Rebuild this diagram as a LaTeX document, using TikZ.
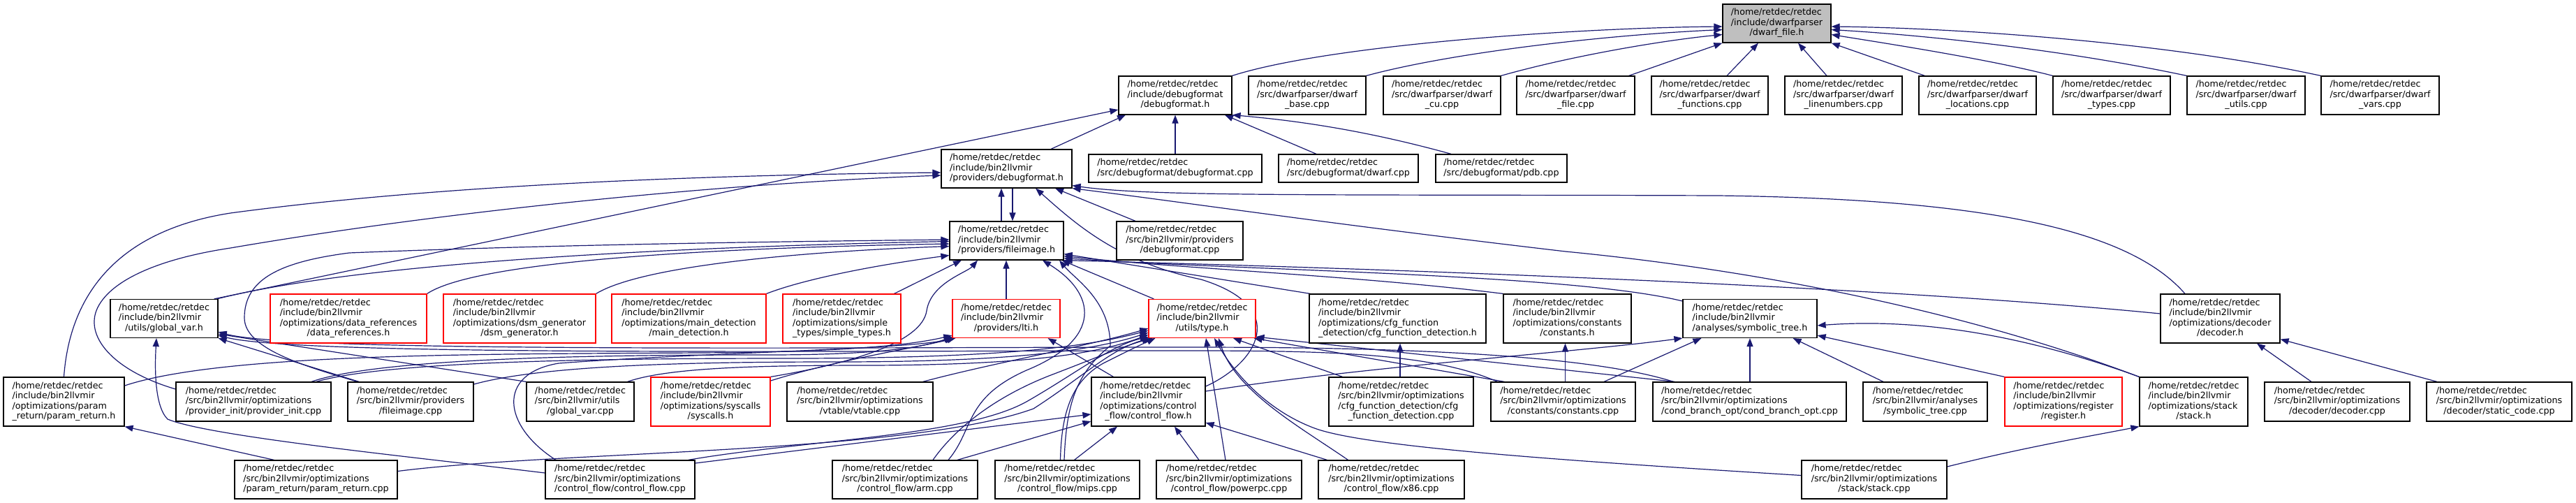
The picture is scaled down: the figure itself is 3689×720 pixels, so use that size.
\documentclass[tikz,border=0pt]{standalone}
\usepackage{fontspec}
\newfontfamily\dvs{DejaVu Sans}
\usetikzlibrary{arrows.meta}
\definecolor{dblue}{HTML}{191970}
\definecolor{rootg}{HTML}{BFBFBF}
\definecolor{tred}{HTML}{FF0000}
\newcommand{\dxf}{\dvs\fontsize{12.7}{14.5}\selectfont}
\newcommand{\dxl}[2]{\begin{tabular}{@{}l@{}}#1\\\multicolumn{1}{@{}c@{}}{#2}\end{tabular}}
\pgfdeclarelayer{bg}
\pgfsetlayers{bg,main}
\tikzset{
  bx/.style={draw=black, fill=white, line width=1.2pt, inner sep=0pt, font=\dxf},
  rbx/.style={bx, draw=tred},
  gbx/.style={bx, fill=rootg},
  lnk/.style={draw=dblue, line width=1.2pt, -{Triangle[length=12pt,width=9pt]}},
}
\begin{document}
\begin{tikzpicture}[x=1pt,y=-1pt]
\useasboundingbox (0,0) rectangle (3689,720);
% row 0
\node[gbx, minimum width=155, minimum height=55] (dwf) at (2544.5,33.5) {\dxl{/home/retdec/retdec\\/include/dwarfparser}{/dwarf\_file.h}};
% row 1
\node[bx, minimum width=162, minimum height=55] (dbg) at (1683,136.5) {\dxl{/home/retdec/retdec\\/include/debugformat}{/debugformat.h}};
\node[bx, minimum width=168, minimum height=55] (cbase) at (1872,136.5) {\dxl{/home/retdec/retdec\\/src/dwarfparser/dwarf}{\_base.cpp}};
\node[bx, minimum width=168, minimum height=55] (ccu) at (2065,136.5) {\dxl{/home/retdec/retdec\\/src/dwarfparser/dwarf}{\_cu.cpp}};
\node[bx, minimum width=169, minimum height=55] (cfile) at (2256.5,136.5) {\dxl{/home/retdec/retdec\\/src/dwarfparser/dwarf}{\_file.cpp}};
\node[bx, minimum width=167, minimum height=55] (cfun) at (2448.5,136.5) {\dxl{/home/retdec/retdec\\/src/dwarfparser/dwarf}{\_functions.cpp}};
\node[bx, minimum width=168, minimum height=55] (clin) at (2640,136.5) {\dxl{/home/retdec/retdec\\/src/dwarfparser/dwarf}{\_linenumbers.cpp}};
\node[bx, minimum width=168, minimum height=55] (cloc) at (2832,136.5) {\dxl{/home/retdec/retdec\\/src/dwarfparser/dwarf}{\_locations.cpp}};
\node[bx, minimum width=168, minimum height=55] (ctyp) at (3024,136.5) {\dxl{/home/retdec/retdec\\/src/dwarfparser/dwarf}{\_types.cpp}};
\node[bx, minimum width=169, minimum height=55] (cutl) at (3216.5,136.5) {\dxl{/home/retdec/retdec\\/src/dwarfparser/dwarf}{\_utils.cpp}};
\node[bx, minimum width=169, minimum height=55] (cvar) at (3408.5,136.5) {\dxl{/home/retdec/retdec\\/src/dwarfparser/dwarf}{\_vars.cpp}};
% row 2
\node[bx, minimum width=187, minimum height=55] (pdbg) at (1441.5,241.5) {\dxl{/home/retdec/retdec\\/include/bin2llvmir}{/providers/debugformat.h}};
\node[bx, minimum width=248, minimum height=40] (sdbg) at (1683,241) {\dxl{/home/retdec/retdec}{/src/debugformat/debugformat.cpp}};
\node[bx, minimum width=200, minimum height=40] (sdwarf) at (1931,241) {\dxl{/home/retdec/retdec}{/src/debugformat/dwarf.cpp}};
\node[bx, minimum width=188, minimum height=40] (spdb) at (2150,241) {\dxl{/home/retdec/retdec}{/src/debugformat/pdb.cpp}};
% row 3
\node[bx, minimum width=163, minimum height=55] (fimg) at (1441.5,344.5) {\dxl{/home/retdec/retdec\\/include/bin2llvmir}{/providers/fileimage.h}};
\node[bx, minimum width=181, minimum height=55] (pdbgcpp) at (1689.5,344.5) {\dxl{/home/retdec/retdec\\/src/bin2llvmir/providers}{/debugformat.cpp}};
% row 4
\node[bx, minimum width=154, minimum height=55] (gvh) at (235,456) {\dxl{/home/retdec/retdec\\/include/bin2llvmir}{/utils/global\_var.h}};
\node[rbx, minimum width=224, minimum height=70] (dref) at (499,456) {\dxl{/home/retdec/retdec\\/include/bin2llvmir\\/optimizations/data\_references}{/data\_references.h}};
\node[rbx, minimum width=218, minimum height=70] (dsm) at (744,456) {\dxl{/home/retdec/retdec\\/include/bin2llvmir\\/optimizations/dsm\_generator}{/dsm\_generator.h}};
\node[rbx, minimum width=221, minimum height=70] (mdet) at (986.5,456) {\dxl{/home/retdec/retdec\\/include/bin2llvmir\\/optimizations/main\_detection}{/main\_detection.h}};
\node[rbx, minimum width=169, minimum height=70] (stypes) at (1205.5,456) {\dxl{/home/retdec/retdec\\/include/bin2llvmir\\/optimizations/simple}{\_types/simple\_types.h}};
\node[rbx, minimum width=154, minimum height=55] (lti) at (1441,456) {\dxl{/home/retdec/retdec\\/include/bin2llvmir}{/providers/lti.h}};
\node[rbx, minimum width=153, minimum height=55] (typeh) at (1721.5,456) {\dxl{/home/retdec/retdec\\/include/bin2llvmir}{/utils/type.h}};
\node[bx, minimum width=253, minimum height=70] (cfgh) at (2001.5,456) {\dxl{/home/retdec/retdec\\/include/bin2llvmir\\/optimizations/cfg\_function}{\_detection/cfg\_function\_detection.h}};
\node[bx, minimum width=183, minimum height=70] (consth) at (2244.5,456) {\dxl{/home/retdec/retdec\\/include/bin2llvmir\\/optimizations/constants}{/constants.h}};
\node[bx, minimum width=192, minimum height=55] (symh) at (2506,456) {\dxl{/home/retdec/retdec\\/include/bin2llvmir}{/analyses/symbolic\_tree.h}};
\node[bx, minimum width=171, minimum height=70] (dech) at (3179.5,456) {\dxl{/home/retdec/retdec\\/include/bin2llvmir\\/optimizations/decoder}{/decoder.h}};
% row 5
\node[bx, minimum width=173, minimum height=70] (prh) at (91.5,575) {\dxl{/home/retdec/retdec\\/include/bin2llvmir\\/optimizations/param}{\_return/param\_return.h}};
\node[bx, minimum width=222, minimum height=56] (pinit) at (363,575) {\dxl{/home/retdec/retdec\\/src/bin2llvmir/optimizations}{/provider\_init/provider\_init.cpp}};
\node[bx, minimum width=180, minimum height=56] (fimgcpp) at (588,575) {\dxl{/home/retdec/retdec\\/src/bin2llvmir/providers}{/fileimage.cpp}};
\node[bx, minimum width=154, minimum height=56] (gvcpp) at (831,575) {\dxl{/home/retdec/retdec\\/src/bin2llvmir/utils}{/global\_var.cpp}};
\node[rbx, minimum width=171, minimum height=70] (sysh) at (1017.5,575) {\dxl{/home/retdec/retdec\\/include/bin2llvmir\\/optimizations/syscalls}{/syscalls.h}};
\node[bx, minimum width=209, minimum height=56] (vtab) at (1231.5,575) {\dxl{/home/retdec/retdec\\/src/bin2llvmir/optimizations}{/vtable/vtable.cpp}};
\node[bx, minimum width=163, minimum height=70] (cfh) at (1644.5,575) {\dxl{/home/retdec/retdec\\/include/bin2llvmir\\/optimizations/control}{\_flow/control\_flow.h}};
\node[bx, minimum width=207, minimum height=70] (cfgcpp) at (2006.5,575) {\dxl{/home/retdec/retdec\\/src/bin2llvmir/optimizations\\/cfg\_function\_detection/cfg}{\_function\_detection.cpp}};
\node[bx, minimum width=207, minimum height=56] (constcpp) at (2238.5,575) {\dxl{/home/retdec/retdec\\/src/bin2llvmir/optimizations}{/constants/constants.cpp}};
\node[bx, minimum width=277, minimum height=56] (cbo) at (2505.5,575) {\dxl{/home/retdec/retdec\\/src/bin2llvmir/optimizations}{/cond\_branch\_opt/cond\_branch\_opt.cpp}};
\node[bx, minimum width=178, minimum height=56] (symcpp) at (2757,575) {\dxl{/home/retdec/retdec\\/src/bin2llvmir/analyses}{/symbolic\_tree.cpp}};
\node[rbx, minimum width=168, minimum height=70] (regh) at (2955,575) {\dxl{/home/retdec/retdec\\/include/bin2llvmir\\/optimizations/register}{/register.h}};
\node[bx, minimum width=155, minimum height=70] (stackh) at (3141.5,575) {\dxl{/home/retdec/retdec\\/include/bin2llvmir\\/optimizations/stack}{/stack.h}};
\node[bx, minimum width=208, minimum height=56] (deccpp) at (3347,575) {\dxl{/home/retdec/retdec\\/src/bin2llvmir/optimizations}{/decoder/decoder.cpp}};
\node[bx, minimum width=208, minimum height=56] (statcpp) at (3579,575) {\dxl{/home/retdec/retdec\\/src/bin2llvmir/optimizations}{/decoder/static\_code.cpp}};
% row 6
\node[bx, minimum width=233, minimum height=55] (prcpp) at (452.5,686.5) {\dxl{/home/retdec/retdec\\/src/bin2llvmir/optimizations}{/param\_return/param\_return.cpp}};
\node[bx, minimum width=214, minimum height=55] (cfcpp) at (888,686.5) {\dxl{/home/retdec/retdec\\/src/bin2llvmir/optimizations}{/control\_flow/control\_flow.cpp}};
\node[bx, minimum width=208, minimum height=55] (arm) at (1296,686.5) {\dxl{/home/retdec/retdec\\/src/bin2llvmir/optimizations}{/control\_flow/arm.cpp}};
\node[bx, minimum width=207, minimum height=55] (mips) at (1528.5,686.5) {\dxl{/home/retdec/retdec\\/src/bin2llvmir/optimizations}{/control\_flow/mips.cpp}};
\node[bx, minimum width=208, minimum height=55] (ppc) at (1760,686.5) {\dxl{/home/retdec/retdec\\/src/bin2llvmir/optimizations}{/control\_flow/powerpc.cpp}};
\node[bx, minimum width=209, minimum height=55] (x86) at (1992.5,686.5) {\dxl{/home/retdec/retdec\\/src/bin2llvmir/optimizations}{/control\_flow/x86.cpp}};
\node[bx, minimum width=208, minimum height=55] (stackcpp) at (2684,686.5) {\dxl{/home/retdec/retdec\\/src/bin2llvmir/optimizations}{/stack/stack.cpp}};

\begin{pgfonlayer}{bg}
% into dwarf_file.h
\draw[lnk] (dbg.north east) .. controls (1900,65) and (2250,40) .. ([yshift=-4.5]dwf.west);
\draw[lnk] (cbase.north east) .. controls (2080,75) and (2300,50) .. ([yshift=-9]dwf.west);
\draw[lnk] (ccu.north east) .. controls (2250,80) and (2380,58) .. ([yshift=-16]dwf.west);
\draw[lnk] ([xshift=-9]cfile.north east) -- (dwf.south west);
\draw[lnk] ([xshift=24.5]cfun.north) -- ([xshift=-26.5]dwf.south);
\draw[lnk] ([xshift=-24]clin.north) -- ([xshift=30.5]dwf.south);
\draw[lnk] ([xshift=9]cloc.north west) -- (dwf.south east);
\draw[lnk] (ctyp.north west) .. controls (2850,85) and (2700,62) .. ([yshift=-16]dwf.east);
\draw[lnk] (cutl.north west) .. controls (2950,70) and (2750,50) .. ([yshift=-9]dwf.east);
\draw[lnk] (cvar.north west) .. controls (3100,60) and (2800,40) .. ([yshift=-4.5]dwf.east);
% into debugformat.h
\draw[lnk] ([xshift=63.5]pdbg.north) -- ([xshift=-71]dbg.south);
\draw[lnk] (sdbg.north) -- (dbg.south);
\draw[lnk] ([xshift=-46]sdwarf.north) -- ([xshift=71]dbg.south);
\draw[lnk] ([xshift=-72]spdb.north) .. controls (1950,185) and (1850,172) .. (dbg.south east);
\draw[lnk] ([xshift=-6]gvh.north east) -- ([yshift=-20.5]dbg.west);
% into providers/debugformat.h
\draw[lnk] ([xshift=-7.5]fimg.north) -- ([xshift=-7.5]pdbg.south);
\draw[lnk] ([xshift=8.5]pdbg.south) -- ([xshift=8.5]fimg.north);
\draw[lnk] (prh.north) .. controls (100,420) and (170,330) .. (330,305) .. controls (650,262) and (1050,250) .. ([yshift=-5.5]pdbg.west);
\draw[lnk] ([yshift=18]pinit.west) .. controls (160,530) and (120,480) .. (140,440) .. controls (160,400) and (230,370) .. (330,355) .. controls (650,300) and (1050,262) .. ([yshift=-9.5]pdbg.west);
\draw[lnk] ([xshift=-63.5]pdbgcpp.north) -- ([xshift=69.5]pdbg.south);
\draw[lnk] ([yshift=22]cfh.east) .. controls (1800,520) and (1850,440) .. (1720,400) .. controls (1600,375) and (1540,320) .. ([xshift=41.5]pdbg.south);
\draw[lnk] ([xshift=-50.5]dech.north) .. controls (3050,330) and (2850,285) .. (2460,280) .. controls (1900,278) and (1650,282) .. ([yshift=4]pdbg.south east);
\draw[lnk] (stackh.north west) .. controls (2800,440) and (2500,385) .. (2242,360) .. controls (1900,320) and (1700,290) .. (pdbg.south east);
% into fileimage.h
\draw[lnk] ([xshift=-2]gvh.north east) .. controls (500,380) and (900,355) .. ([yshift=-1]fimg.west);
\draw[lnk] ([xshift=-76]fimgcpp.north) .. controls (440,525) and (350,500) .. (350,455) .. controls (350,400) and (400,375) .. (500,362) .. controls (800,350) and (1100,346) .. ([yshift=1.5]fimg.west);
\draw[lnk] (dref.north east) .. controls (680,375) and (1000,355) .. ([yshift=-4.5]fimg.west);
\draw[lnk] (dsm.north east) .. controls (920,380) and (1150,360) .. ([yshift=-8]fimg.west);
\draw[lnk] (mdet.north east) .. controls (1150,400) and (1250,380) .. ([yshift=-21]fimg.west);
\draw[lnk] ([xshift=75]stypes.north) -- ([xshift=-64.5]fimg.south);
\draw[lnk] (sysh.north east) .. controls (1220,520) and (1320,490) .. (1327,445) .. controls (1333,405) and (1385,390) .. ([xshift=-41.5]fimg.south);
\draw[lnk] (lti.north) -- ([xshift=-0.5]fimg.south);
\draw[lnk] ([xshift=62]arm.north) .. controls (1395,615) and (1380,570) .. (1470,530) .. controls (1580,485) and (1570,420) .. ([xshift=51.5]fimg.south);
\draw[lnk] ([xshift=-4.5]mips.north) .. controls (1527,580) and (1540,535) .. (1590,495) .. controls (1590,430) and (1540,400) .. ([xshift=75.5]fimg.south);
\draw[lnk] ([xshift=8]typeh.north west) -- ([xshift=-3]fimg.south east);
\draw[lnk] ([xshift=2]cfgh.north west) -- ([yshift=9]fimg.south east);
\draw[lnk] (consth.north west) .. controls (1950,395) and (1700,385) .. ([yshift=6]fimg.south east);
\draw[lnk] ([yshift=25]symh.west) .. controls (2250,392) and (1800,388) .. ([yshift=3]fimg.south east);
\draw[lnk] ([yshift=7]dech.west) .. controls (2700,410) and (2000,385) .. (fimg.south east);
% into global_var.h
\draw[lnk] ([yshift=9.5]cfcpp.west) .. controls (600,655) and (300,625) .. (240,600) .. controls (220,580) and (222,520) .. ([xshift=-11]gvh.south);
\draw[lnk] ([xshift=-74]fimgcpp.north) -- (gvh.south east);
\draw[lnk] (gvcpp.north west) -- ([yshift=6]gvh.south east);
\draw[lnk] ([xshift=10]constcpp.north west) .. controls (2050,505) and (1900,502) .. (1700,502) .. controls (1200,502) and (430,510) .. ([yshift=4]gvh.south east);
\draw[lnk] ([xshift=30]cbo.north west) .. controls (2250,500) and (1900,497) .. (1700,497) .. controls (1200,497) and (420,505) .. ([yshift=9]gvh.south east);
% into lti.h
\draw[lnk] ([yshift=23]prh.east) .. controls (320,505) and (700,507) .. (1000,505) .. controls (1200,504) and (1300,495) .. ([yshift=4]lti.south west);
\draw[lnk] ([xshift=83]pinit.north) .. controls (550,510) and (900,508) .. (1100,508) .. controls (1250,508) and (1320,498) .. ([yshift=2]lti.south west);
\draw[lnk] ([xshift=-92]cfcpp.north) .. controls (720,610) and (710,535) .. (800,520) .. controls (1000,505) and (1300,500) .. ([xshift=2]lti.south west);
\draw[lnk] ([yshift=30]sysh.east) .. controls (1200,515) and (1300,500) .. ([xshift=5]lti.south west);
\draw[lnk] ([xshift=-50]cfh.north) -- ([xshift=-18]lti.south east);
% into type.h
\draw[lnk] ([xshift=-15]vtab.north east) .. controls (1420,520) and (1560,495) .. ([yshift=14]typeh.south west);
\draw[lnk] ([xshift=90]pinit.north) .. controls (560,515) and (900,513) .. (1150,513) .. controls (1450,512) and (1560,495) .. ([yshift=11]typeh.south west);
\draw[lnk] ([yshift=25]fimgcpp.east) .. controls (780,522) and (1000,518) .. (1200,518) .. controls (1460,518) and (1570,500) .. ([yshift=8]typeh.south west);
\draw[lnk] ([xshift=-10]gvcpp.north east) .. controls (960,525) and (1100,523) .. (1250,523) .. controls (1480,522) and (1575,505) .. ([yshift=5]typeh.south west);
\draw[lnk] ([xshift=-10]cfcpp.north east) .. controls (1150,630) and (1380,625) .. (1470,575) .. controls (1540,535) and (1590,495) .. ([yshift=2]typeh.south west);
\draw[lnk] ([yshift=12]prcpp.east) .. controls (800,645) and (1300,650) .. (1480,585) .. controls (1550,540) and (1590,500) .. ([xshift=3]typeh.south west);
\draw[lnk] ([xshift=40]arm.north) .. controls (1370,610) and (1430,565) .. (1510,535) .. controls (1570,512) and (1610,495) .. ([xshift=6]typeh.south west);
\draw[lnk] ([xshift=-10]mips.north) .. controls (1520,590) and (1535,545) .. (1580,520) .. controls (1610,505) and (1630,495) .. ([xshift=10]typeh.south west);
\draw[lnk] ([xshift=-5]ppc.north) -- ([xshift=5.5]typeh.south);
\draw[lnk] ([xshift=-62]x86.north) .. controls (1860,610) and (1770,560) .. ([xshift=23.5]typeh.south);
\draw[lnk] ([xshift=-84]cfgcpp.north) -- ([xshift=44.5]typeh.south);
\draw[lnk] ([xshift=20]constcpp.north west) -- ([xshift=-3]typeh.south east);
\draw[lnk] ([xshift=32]cbo.north west) -- ([yshift=2]typeh.south east);
\draw[lnk] ([yshift=6]stackcpp.west) .. controls (2250,660) and (1950,640) .. (1880,612) .. controls (1810,585) and (1765,530) .. ([xshift=17.5]typeh.south);
% into control_flow.h
\draw[lnk] ([yshift=23.5]cfcpp.east) -- ([yshift=-18]cfh.west);
\draw[lnk] ([xshift=75]arm.north) -- ([yshift=-28]cfh.west);
\draw[lnk] ([xshift=10]mips.north) -- ([xshift=-44.5]cfh.south);
\draw[lnk] ([xshift=-43]ppc.north) -- ([xshift=37.5]cfh.south);
\draw[lnk] ([xshift=-92]x86.north) -- ([yshift=-30]cfh.east);
% cfg / constants
\draw[lnk] ([xshift=-1.5]cfgcpp.north) -- ([xshift=3.5]cfgh.south);
\draw[lnk] ([xshift=3]constcpp.north) -- ([xshift=-3]consth.south);
% into symbolic_tree.h
\draw[lnk] ([yshift=15]cfh.east) .. controls (1950,525) and (2250,505) .. (symh.south west);
\draw[lnk] ([xshift=58.5]constcpp.north) -- ([xshift=27]symh.south west);
\draw[lnk] ([xshift=0.5]cbo.north) -- (symh.south);
\draw[lnk] ([xshift=-60]symcpp.north) -- ([xshift=-35]symh.south east);
\draw[lnk] (regh.north west) -- ([yshift=4]symh.south east);
\draw[lnk] (stackh.north west) .. controls (2900,480) and (2750,455) .. ([yshift=-10]symh.east);
% into decoder.h
\draw[lnk] ([xshift=-37]deccpp.north) -- ([xshift=52.5]dech.south);
\draw[lnk] ([xshift=-89]statcpp.north) -- ([yshift=6]dech.south east);
% stack, param_return
\draw[lnk] ([yshift=18.5]stackcpp.east) .. controls (2900,640) and (2990,625) .. (stackh.south west);
\draw[lnk] ([xshift=-60]prcpp.north) -- (prh.south east);
\end{pgfonlayer}
\end{tikzpicture}
\end{document}
